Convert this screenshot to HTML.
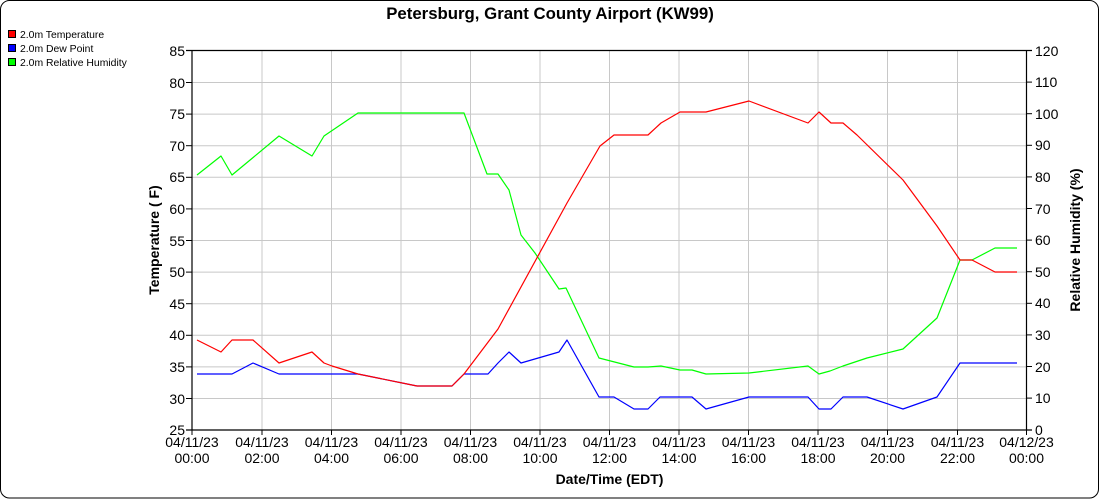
<!DOCTYPE html>
<html><head><meta charset="utf-8"><style>
html,body{margin:0;padding:0;background:#fff;}
svg{display:block;font-family:"Liberation Sans",Arial,sans-serif;}
</style></head><body>
<svg width="1100" height="500" viewBox="0 0 1100 500" xmlns="http://www.w3.org/2000/svg">
<rect x="0.5" y="0.5" width="1098" height="497.5" rx="9" fill="#fff" stroke="#000" stroke-width="1"/>
<text x="550" y="19" text-anchor="middle" font-size="16.8" font-weight="bold">Petersburg, Grant County Airport (KW99)</text>
<!-- legend -->
<rect x="8.5" y="30.5" width="7" height="7" fill="#f00" stroke="#000"/>
<text x="20" y="38" font-size="10.4">2.0m Temperature</text>
<rect x="8.5" y="44.5" width="7" height="7" fill="#00f" stroke="#000"/>
<text x="20" y="52" font-size="10.4">2.0m Dew Point</text>
<rect x="8.5" y="58.5" width="7" height="7" fill="#0f0" stroke="#000"/>
<text x="20" y="66" font-size="10.4">2.0m Relative Humidity</text>
<!-- grid -->
<g stroke="#c8c8c8" stroke-width="1">
<line x1="192" x2="1027" y1="82.5" y2="82.5"/><line x1="192" x2="1027" y1="114.1" y2="114.1"/>
<line x1="192" x2="1027" y1="145.7" y2="145.7"/><line x1="192" x2="1027" y1="177.3" y2="177.3"/>
<line x1="192" x2="1027" y1="208.9" y2="208.9"/><line x1="192" x2="1027" y1="240.5" y2="240.5"/>
<line x1="192" x2="1027" y1="272.1" y2="272.1"/><line x1="192" x2="1027" y1="303.7" y2="303.7"/>
<line x1="192" x2="1027" y1="335.3" y2="335.3"/><line x1="192" x2="1027" y1="366.9" y2="366.9"/>
<line x1="192" x2="1027" y1="398.5" y2="398.5"/>
<line y1="51" y2="430" x1="262" x2="262"/><line y1="51" y2="430" x1="331.5" x2="331.5"/>
<line y1="51" y2="430" x1="401" x2="401"/><line y1="51" y2="430" x1="470.5" x2="470.5"/>
<line y1="51" y2="430" x1="540" x2="540"/><line y1="51" y2="430" x1="609.5" x2="609.5"/>
<line y1="51" y2="430" x1="679" x2="679"/><line y1="51" y2="430" x1="748.5" x2="748.5"/>
<line y1="51" y2="430" x1="818" x2="818"/><line y1="51" y2="430" x1="887.5" x2="887.5"/>
<line y1="51" y2="430" x1="957.5" x2="957.5"/>
</g>
<!-- axes -->
<g stroke="#000" stroke-width="1.2" fill="none">
<line x1="192" y1="50.5" x2="192" y2="430"/>
<line x1="1026.5" y1="50.5" x2="1026.5" y2="430"/>
<line x1="186" y1="430" x2="1032" y2="430"/>
<line x1="186" y1="50.5" x2="1032" y2="50.5"/>
</g>
<g stroke="#000" stroke-width="1">
<line x1="186" x2="192" y1="82.5" y2="82.5"/><line x1="186" x2="192" y1="114.1" y2="114.1"/><line x1="186" x2="192" y1="145.7" y2="145.7"/><line x1="186" x2="192" y1="177.3" y2="177.3"/><line x1="186" x2="192" y1="208.9" y2="208.9"/><line x1="186" x2="192" y1="240.5" y2="240.5"/><line x1="186" x2="192" y1="272.1" y2="272.1"/><line x1="186" x2="192" y1="303.7" y2="303.7"/><line x1="186" x2="192" y1="335.3" y2="335.3"/><line x1="186" x2="192" y1="366.9" y2="366.9"/><line x1="186" x2="192" y1="398.5" y2="398.5"/>
<line x1="1026" x2="1032" y1="82.1" y2="82.1"/><line x1="1026" x2="1032" y1="113.7" y2="113.7"/><line x1="1026" x2="1032" y1="145.3" y2="145.3"/><line x1="1026" x2="1032" y1="176.9" y2="176.9"/><line x1="1026" x2="1032" y1="208.5" y2="208.5"/><line x1="1026" x2="1032" y1="240.1" y2="240.1"/><line x1="1026" x2="1032" y1="271.7" y2="271.7"/><line x1="1026" x2="1032" y1="303.3" y2="303.3"/><line x1="1026" x2="1032" y1="334.9" y2="334.9"/><line x1="1026" x2="1032" y1="366.5" y2="366.5"/><line x1="1026" x2="1032" y1="398.1" y2="398.1"/>
<line y1="430" y2="435" x1="192" x2="192"/><line y1="430" y2="435" x1="262" x2="262"/><line y1="430" y2="435" x1="331.5" x2="331.5"/><line y1="430" y2="435" x1="401" x2="401"/><line y1="430" y2="435" x1="470.5" x2="470.5"/><line y1="430" y2="435" x1="540" x2="540"/><line y1="430" y2="435" x1="609.5" x2="609.5"/><line y1="430" y2="435" x1="679" x2="679"/><line y1="430" y2="435" x1="748.5" x2="748.5"/><line y1="430" y2="435" x1="818" x2="818"/><line y1="430" y2="435" x1="887.5" x2="887.5"/><line y1="430" y2="435" x1="957.5" x2="957.5"/><line y1="430" y2="435" x1="1026.5" x2="1026.5"/>
</g>
<g font-size="14" text-anchor="end">
<text x="185" y="56">85</text><text x="185" y="88">80</text><text x="185" y="119">75</text><text x="185" y="151">70</text><text x="185" y="182">65</text><text x="185" y="214">60</text><text x="185" y="246">55</text><text x="185" y="277">50</text><text x="185" y="309">45</text><text x="185" y="340">40</text><text x="185" y="372">35</text><text x="185" y="404">30</text><text x="185" y="435">25</text>
</g>
<g font-size="14">
<text x="1035" y="56">120</text><text x="1035" y="87">110</text><text x="1035" y="119">100</text><text x="1035" y="150">90</text><text x="1035" y="182">80</text><text x="1035" y="214">70</text><text x="1035" y="245">60</text><text x="1035" y="277">50</text><text x="1035" y="308">40</text><text x="1035" y="340">30</text><text x="1035" y="372">20</text><text x="1035" y="403">10</text><text x="1035" y="435">0</text>
</g>
<g font-size="14" text-anchor="middle">
<text x="192" y="447">04/11/23</text><text x="192" y="463">00:00</text>
<text x="262" y="447">04/11/23</text><text x="262" y="463">02:00</text>
<text x="331.5" y="447">04/11/23</text><text x="331.5" y="463">04:00</text>
<text x="401" y="447">04/11/23</text><text x="401" y="463">06:00</text>
<text x="470.5" y="447">04/11/23</text><text x="470.5" y="463">08:00</text>
<text x="540" y="447">04/11/23</text><text x="540" y="463">10:00</text>
<text x="609.5" y="447">04/11/23</text><text x="609.5" y="463">12:00</text>
<text x="679" y="447">04/11/23</text><text x="679" y="463">14:00</text>
<text x="748.5" y="447">04/11/23</text><text x="748.5" y="463">16:00</text>
<text x="818" y="447">04/11/23</text><text x="818" y="463">18:00</text>
<text x="887.5" y="447">04/11/23</text><text x="887.5" y="463">20:00</text>
<text x="957.5" y="447">04/11/23</text><text x="957.5" y="463">22:00</text>
<text x="1026.5" y="447">04/12/23</text><text x="1026.5" y="463">00:00</text>
</g>
<text x="609.5" y="484" text-anchor="middle" font-size="14" font-weight="bold">Date/Time (EDT)</text>
<text transform="translate(159,240) rotate(-90)" text-anchor="middle" font-size="14" font-weight="bold">Temperature ( F)</text>
<text transform="translate(1080,240) rotate(-90)" text-anchor="middle" font-size="14" font-weight="bold">Relative Humidity (%)</text>
<!-- series -->
<g fill="none" stroke-width="1.2" stroke-linejoin="round">
<polyline stroke="#00f" points="197,374 232,374 253,363 279,374 358,374 417,386 452,386 464,374 488,374 498,363 509,352 521,363 559,352 567,340 599,397 614,397 634,409 648,409 660,397 692,397 706,409 749,397 808,397 819,409 831,409 843,397 867,397 903,409 937,397 960,363 1017,363"/>
<polyline stroke="#0f0" points="197,175 221,156 232,175 279,136 312,156 324,136 358,113 464,113 487,174 498,174 509,190 521,235 535,253 559,289 566,288 599,358 634,367 648,367 661,366 680,370 692,370 706,374 749,373 808,366 819,374 830,371 843,366 867,358 903,349 937,318 960,260 972,260 995,248 1017,248"/>
<polyline stroke="#f00" points="197,340 221,352 232,340 253,340 279,363 312,352 324,363 332,366 358,374 417,386 452,386 464,374 498,329 567,203 600,146 614,135 648,135 661,123 680,112 706,112 749,101 808,123 819,112 831,123 843,123 857,135 903,180 937,226 960,260 972,260 995,272 1017,272"/>
</g>
</svg>
</body></html>
